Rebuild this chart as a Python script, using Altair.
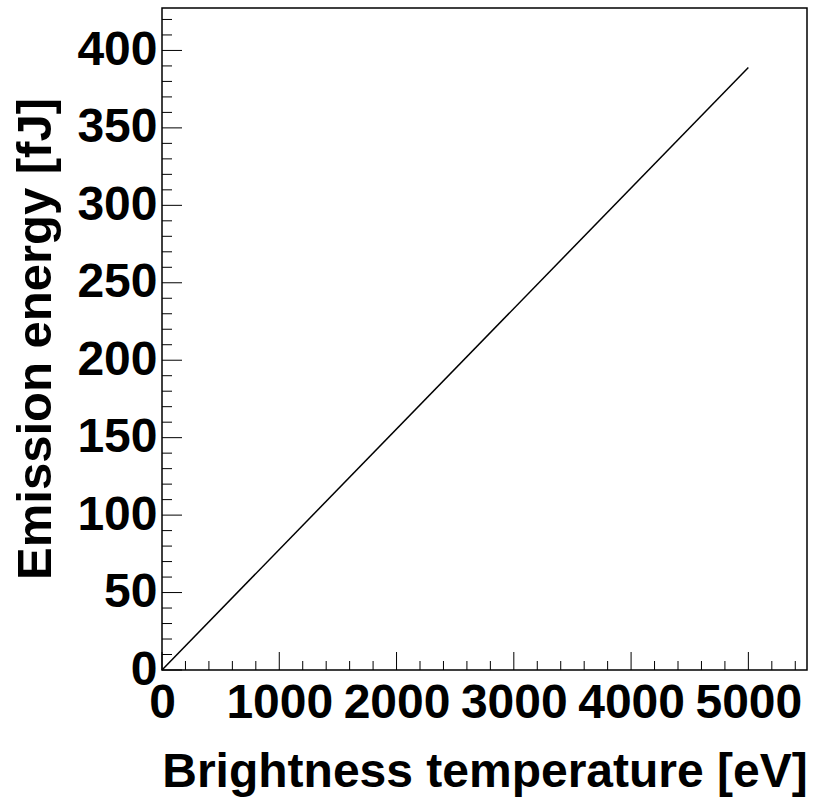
import altair as alt
import pandas as pd

# Emission energy versus brightness temperature (straight line through the origin)
temperature_ev = [0, 5000]
energy_fj = [0, 389]

# Axis tick positions
x_major = [0, 1000, 2000, 3000, 4000, 5000]
x_minor = [v for v in range(0, 5600, 200) if v % 1000 != 0]
y_major = [0, 50, 100, 150, 200, 250, 300, 350, 400]
y_minor = [v for v in range(0, 430, 10) if v % 50 != 0]

X_MAX = 5500
Y_MAX = 427.4
W, H = 645, 662
FONT = "Liberation Sans"

line_df = pd.DataFrame({"T": temperature_ev, "E": energy_fj})

xs = alt.Scale(domain=[0, X_MAX], nice=False, zero=False)
ys = alt.Scale(domain=[0, Y_MAX], nice=False, zero=False)

x_axis = alt.Axis(
    values=x_major, format="d", tickSize=0, domain=False, grid=False,
    labelFont=FONT, labelFontWeight="bold", labelFontSize=48, labelColor="black",
    labelPadding=9, labelFlush=False, labelOverlap=False, labelBound=False,
    title="Brightness temperature [eV]", titleFont=FONT, titleFontWeight="bold",
    titleFontSize=48, titleColor="black", titleBaseline="alphabetic",
    titleAlign="center", titleX=322.5, titleY=116, titleAnchor="middle",
)
y_axis = alt.Axis(
    values=y_major, format="d", tickSize=0, domain=False, grid=False,
    labelFont=FONT, labelFontWeight="bold", labelFontSize=48, labelColor="black",
    labelPadding=5, labelFlush=False, labelOverlap=False, labelBound=False,
    title="Emission energy [fJ]", titleFont=FONT, titleFontWeight="bold",
    titleFontSize=49, titleColor="black", titleBaseline="alphabetic",
    titleAlign="center", titleAngle=270, titleX=-112, titleY=330.5,
)

line = alt.Chart(line_df).mark_line(color="black", strokeWidth=1.5).encode(
    x=alt.X("T:Q", scale=xs, axis=x_axis),
    y=alt.Y("E:Q", scale=ys, axis=y_axis),
)

tick_style = dict(color="black", strokeWidth=1)

x_major_ticks = alt.Chart(pd.DataFrame({"T": x_major})).mark_rule(**tick_style).encode(
    x=alt.X("T:Q", scale=xs), y=alt.value(H), y2=alt.value(H - 18)
)
x_minor_ticks = alt.Chart(pd.DataFrame({"T": x_minor})).mark_rule(**tick_style).encode(
    x=alt.X("T:Q", scale=xs), y=alt.value(H), y2=alt.value(H - 9)
)
y_major_ticks = alt.Chart(pd.DataFrame({"E": y_major})).mark_rule(**tick_style).encode(
    y=alt.Y("E:Q", scale=ys), x=alt.value(0), x2=alt.value(20)
)
y_minor_ticks = alt.Chart(pd.DataFrame({"E": y_minor})).mark_rule(**tick_style).encode(
    y=alt.Y("E:Q", scale=ys), x=alt.value(0), x2=alt.value(10)
)

chart = (
    alt.layer(line, x_major_ticks, x_minor_ticks, y_major_ticks, y_minor_ticks)
    .properties(
        width=W, height=H,
        autosize=alt.AutoSizeParams(type="none"),
        padding={"left": 162, "top": 8, "right": 11, "bottom": 127},
        background="white",
    )
    .configure_view(stroke="black", strokeWidth=1.5)
)

chart.save("out.html", embed_options={"renderer": "svg", "actions": False})
